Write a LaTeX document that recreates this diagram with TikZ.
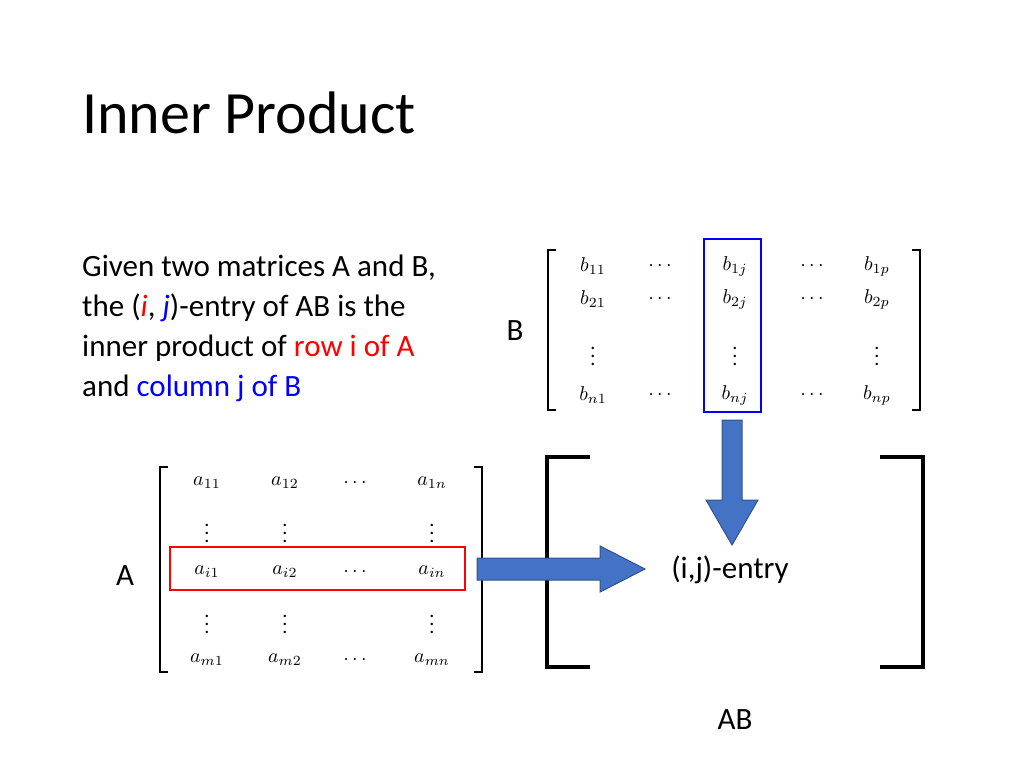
\documentclass[tikz,border=0pt]{standalone}
\usepackage{fix-cm}
\usepackage{fontspec}
\setmainfont{Carlito}
\definecolor{ablue}{HTML}{4472C4}
\definecolor{adark}{HTML}{2F528F}
\begin{document}
\begin{tikzpicture}[x=1pt,y=-1pt,
  ent/.style={scale=2, transform shape, inner sep=0pt},
  txt/.style={font=\fontsize{31}{36}\selectfont, anchor=west, inner sep=0pt},
  brk/.style={line width=1.2pt},
  bigbrk/.style={line width=3.5pt},
  fat/.style={draw=adark, fill=ablue, line width=1pt}]
\useasboundingbox (0,0) rectangle (1024,768);
\node[anchor=base west, font=\fontsize{60}{70}\selectfont, inner sep=0pt] (title) at (82,133) {Inner Product};
\node[txt] (t1) at (82,268) {Given two matrices A and B,};
\node[txt] (t2) at (82,308) {the (\textcolor{red}{\itshape i}, \textcolor{blue}{\itshape j})-entry of AB is the};
\node[txt] (t3) at (82,348) {inner product of \textcolor{red}{row i of A}};
\node[txt] (t4) at (82,388) {and \textcolor{blue}{column j of B}};
% B matrix
\draw[brk] (556,250) -- (548,250) -- (548,410) -- (556,410);
\draw[brk] (912,250) -- (920,250) -- (920,410) -- (912,410);
\foreach \x/\a/\b/\c/\d in {593/b_{11}/b_{21}/\vdots/b_{n1}, 660/\cdots/\cdots//\cdots, 735/b_{1j}/b_{2j}/\vdots/b_{nj}, 812/\cdots/\cdots//\cdots, 877/b_{1p}/b_{2p}/\vdots/b_{np}}{
  \node[ent] (b1\x) at (\x,266) {$\a$};
  \node[ent] (b2\x) at (\x,299) {$\b$};
  \node[ent] (b3\x) at (\x,350) {$\c$};
  \node[ent] (b4\x) at (\x,395) {$\d$};}
\draw[blue, line width=2.5pt] (704,239) rectangle (761,412);
\node[font=\fontsize{31}{36}\selectfont] (Blab) at (515,331) {B};
% A matrix
\draw[brk] (168,467) -- (160,467) -- (160,672) -- (168,672);
\draw[brk] (474,467) -- (482,467) -- (482,672) -- (474,672);
\foreach \x/\a/\b/\c/\d/\e in {207/a_{11}/\vdots/a_{i1}/\vdots/a_{m1}, 285/a_{12}/\vdots/a_{i2}/\vdots/a_{m2}, 355/\cdots//\cdots//\cdots, 432/a_{1n}/\vdots/a_{in}/\vdots/a_{mn}}{
  \node[ent] (a1\x) at (\x,483) {$\a$};
  \node[ent] (a2\x) at (\x,527) {$\b$};
  \node[ent] (a3\x) at (\x,572) {$\c$};
  \node[ent] (a4\x) at (\x,618) {$\d$};
  \node[ent] (a5\x) at (\x,660) {$\e$};}
\draw[red, line width=2.5pt] (170,547) rectangle (465,590);
\node[font=\fontsize{31}{36}\selectfont] (Alab) at (125,576) {A};
% AB
\draw[bigbrk] (590,457) -- (547,457) -- (547,667) -- (590,667);
\draw[bigbrk] (880,457) -- (923,457) -- (923,667) -- (880,667);
\node[font=\fontsize{31}{36}\selectfont] (ij) at (730,570) {(i,j)-entry};
\node[font=\fontsize{31}{36}\selectfont] (AB) at (735,720) {AB};
% arrows
\draw[fat] (722,420) -- (742,420) -- (742,500) -- (758,500) -- (732,545) -- (706,500) -- (722,500) -- cycle;
\draw[fat] (477,558) -- (600,558) -- (600,546) -- (645,569) -- (600,592) -- (600,580) -- (477,580) -- cycle;
\end{tikzpicture}
\end{document}
